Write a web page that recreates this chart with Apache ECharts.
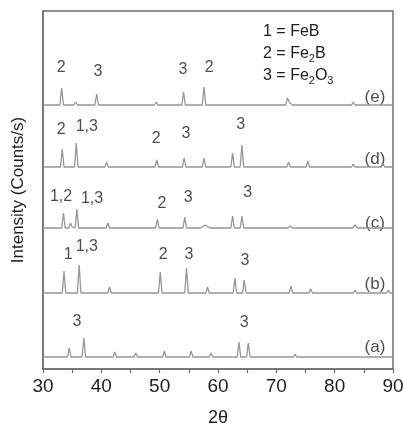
<!DOCTYPE html>
<html>
<head>
<meta charset="utf-8">
<script src="https://cdn.jsdelivr.net/npm/echarts@6/dist/echarts.min.js"></script>
<style>html,body{margin:0;padding:0;background:#fff}#c{width:404px;height:425px}</style>
</head>
<body>
<div id="c"></div>
<script>
// 2θ / relative intensity points for each pattern
const patternA = [[30,0],[34.2,0],[34.5,9],[34.8,0],[36.7,0],[37.0,19],[37.3,0],[42.0,0],[42.3,5],[42.6,0],[44.7,0],[44.9,1],[45.2,0],[45.6,0],[45.9,4],[46.2,0],[50.5,0],[50.8,6],[51.1,0],[55.1,0],[55.4,6],[55.7,0],[58.5,0],[58.8,4],[59.1,0],[63.3,0],[63.6,15],[63.9,0],[64.9,0],[65.2,14],[65.5,0],[72.9,0],[73.2,3],[73.5,0],[76.3,0],[76.6,2],[76.9,0],[78.7,0],[78.9,1],[79.2,0],[83.5,0],[83.8,2],[84.1,0],[88.8,0],[89.0,1],[89.3,0],[90,0]];
const patternB = [[30,0],[33.3,0],[33.6,22],[33.9,0],[35.9,0],[36.2,28],[36.5,0],[41.1,0],[41.4,6],[41.7,0],[43.9,0],[44.1,1],[44.4,0],[49.8,0],[50.1,21],[50.4,0],[54.3,0],[54.6,25],[54.9,0],[57.9,0],[58.2,6],[58.5,0],[62.6,0],[62.9,15],[63.2,0],[64.2,0],[64.5,13],[64.8,0],[69.9,0],[70.1,1],[70.4,0],[72.2,0],[72.5,7],[72.8,0],[75.6,0],[75.9,4],[76.2,0],[80.9,0],[81.2,2],[81.5,0],[83.2,0],[83.5,3],[83.8,0],[88.9,0],[89.2,3],[89.5,0],[90,0]];
const patternC = [[30,0],[33.2,0],[33.5,15],[33.8,0],[34.4,0],[34.7,5],[35.0,1],[35.5,0],[35.8,19],[36.1,0],[40.8,0],[41.1,5],[41.4,0],[43.1,0],[43.4,2],[43.7,0],[45.3,0],[45.6,2],[45.9,0],[49.3,0],[49.6,9],[49.9,0],[50.6,0],[50.9,2],[51.2,0],[54.0,0],[54.3,11],[54.6,0],[57.0,0],[57.8,3],[58.6,0],[62.2,0],[62.5,12],[62.8,0],[63.8,0],[64.1,12],[64.4,0],[69.3,0],[69.5,1],[69.8,0],[72.0,0],[72.4,2],[72.8,0],[75.2,0],[75.5,2],[75.8,0],[83.1,0],[83.5,3],[83.9,0],[89.2,0],[89.5,2],[89.8,0],[90,0]];
const patternD = [[30,0],[33.0,0],[33.3,18],[33.6,0],[35.4,0],[35.7,24],[36.0,0],[40.6,0],[40.9,5],[41.2,0],[43.0,0],[43.2,1],[43.5,0],[49.2,0],[49.5,7],[49.8,0],[53.9,0],[54.2,9],[54.5,0],[57.3,0],[57.6,9],[57.9,0],[62.2,0],[62.5,14],[62.8,0],[63.8,0],[64.1,22],[64.4,0],[69.3,0],[69.5,2],[69.8,0],[71.8,0],[72.1,5],[72.4,0],[75.1,0],[75.4,6],[75.7,0],[82.9,0],[83.2,3],[83.5,0],[88.0,0],[88.3,3],[88.6,0],[90,0]];
const patternE = [[30,0],[32.9,0],[33.2,17],[33.5,0],[35.3,0],[35.6,3],[35.9,0],[38.9,0],[39.2,11],[39.5,0],[40.0,0],[40.3,1.5],[40.6,0],[49.1,0],[49.4,3],[49.7,0],[53.8,0],[54.1,13],[54.4,0],[57.3,0],[57.6,18],[57.9,0],[62.2,0],[62.5,1],[62.8,0],[71.6,0],[71.9,7],[72.3,2],[72.8,0],[82.9,0],[83.2,3],[83.5,0],[90,0]];
const patterns = [patternA, patternB, patternC, patternD, patternE];
const offsets = [12, 76, 141, 202, 264];
const seriesNames = ['(a)', '(b)', '(c)', '(d)', '(e)'];
const seriesLabelPos = [[86.9, 22], [86.9, 85], [86.9, 146], [86.9, 210], [86.9, 272]];
// peak annotations: [2θ, y, text]
const peakLabels = [
  [33.1,301,'2'],[39.4,297,'3'],[54.0,299,'3'],[58.5,301,'2'],
  [33.1,239,'2'],[37.5,242,'1,3'],[49.4,230,'2'],[54.5,235,'3'],[63.9,244,'3'],
  [33.1,172,'1,2'],[38.4,170,'1,3'],[50.4,165,'2'],[54.9,171,'3'],[65.1,176,'3'],
  [34.3,114,'1'],[37.5,122,'1,3'],[50.6,114,'2'],[55.0,114,'3'],[64.6,108,'3'],
  [35.8,47,'3'],[64.5,46,'3']
];
const xTicks = [30, 40, 50, 60, 70, 80, 90];

const font = 'Liberation Sans, Arial, sans-serif';
const txt = '#1e1e1e';
const chart = echarts.init(document.getElementById('c'));
const series = patterns.map((p, i) => ({
  type: 'line', name: seriesNames[i], symbol: 'none', silent: true,
  data: p.map(d => [d[0], d[1] + offsets[i]]),
  lineStyle: { color: '#979797', width: 1.3 }
}));
series.push({
  type: 'scatter', symbolSize: 0, silent: true,
  data: peakLabels,
  label: { show: true, position: 'inside', formatter: p => p.data[2], color: txt, textBorderWidth: 0, fontSize: 16, fontFamily: font }
});
series.push({
  type: 'scatter', symbolSize: 0, silent: true,
  data: seriesLabelPos.map((d, i) => [d[0], d[1], seriesNames[i]]),
  label: { show: true, position: 'inside', formatter: p => p.data[2], color: txt, textBorderWidth: 0, fontSize: 17, fontFamily: font }
});
const rich = { n: { fontSize: 16, fontFamily: font, fill: txt }, s: { fontSize: 11, fontFamily: font, fill: txt, padding: [9, 0, 0, 0] } };
chart.setOption({
  animation: false,
  grid: { left: 43, top: 11, width: 350, height: 358, outerBoundsMode: 'none', containLabel: false, show: true, borderColor: '#707070', borderWidth: 1.5, backgroundColor: 'transparent' },
  xAxis: {
    type: 'value', min: 30, max: 90, interval: 10,
    name: '2θ', nameLocation: 'middle', nameGap: 40,
    nameTextStyle: { fontSize: 18, color: txt, fontFamily: font },
    axisLine: { show: true, lineStyle: { color: '#707070', width: 1.5 } },
    axisTick: { show: true, length: 4, lineStyle: { color: '#707070', width: 1.2 } },
    minorTick: { show: true, splitNumber: 2, length: 4, lineStyle: { color: '#707070', width: 1.2 } },
    splitLine: { show: false },
    axisLabel: { fontSize: 19, color: txt, margin: 8, fontFamily: font,
      formatter: v => xTicks.includes(v) ? String(v) : '' }
  },
  yAxis: {
    type: 'value', min: 0, max: 358,
    name: 'Intensity (Counts/s)', nameLocation: 'middle', nameGap: 16,
    nameTextStyle: { fontSize: 17, color: txt, fontFamily: font },
    axisLine: { show: true, lineStyle: { color: '#707070', width: 1.5 } },
    axisTick: { show: false }, axisLabel: { show: false }, splitLine: { show: false }
  },
  graphic: [
    { type: 'text', left: 263, top: 24, style: { text: '1 = FeB', font: '16px ' + font, fill: txt } },
    { type: 'text', left: 263, top: 46, style: { rich, text: '{n|2 = Fe}{s|2}{n|B}' } },
    { type: 'text', left: 263, top: 68, style: { rich, text: '{n|3 = Fe}{s|2}{n|O}{s|3}' } }
  ],
  series
});
</script>
</body>
</html>
